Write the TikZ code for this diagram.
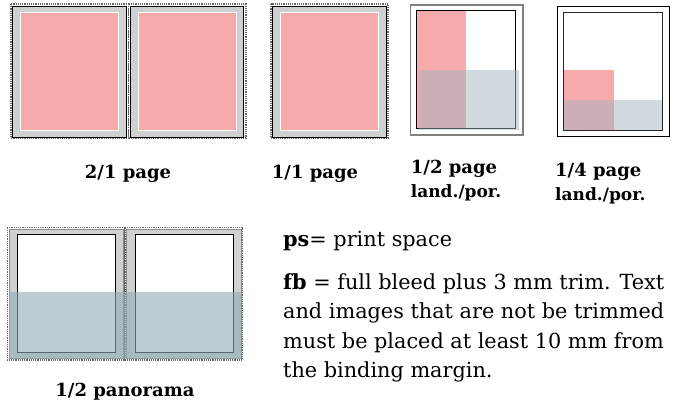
\documentclass[tikz,border=0pt]{standalone}
\usepackage{fontspec}
\setmainfont{DejaVu Serif}
\definecolor{pspink}{RGB}{247,170,172}
\definecolor{psgray}{RGB}{207,208,208}
\definecolor{psblue}{RGB}{165,181,193}
\definecolor{fbblue}{RGB}{145,172,183}
\tikzset{
  trimline/.style={draw=black!60,densely dotted,line width=1.2pt},
  pageframe/.style={fill=psgray,draw=black,line width=.9pt},
  pinkarea/.style={fill=pspink,draw=white,line width=.9pt},
  bluearea/.style={fill=psblue,fill opacity=.5},
  sizelabel/.style={inner sep=0pt,font=\bfseries\fontsize{18}{18}\selectfont},
  sublabel/.style={inner sep=0pt,font=\bfseries\fontsize{17}{17}\selectfont},
  notetext/.style={inner sep=0pt,anchor=base west,font=\fontsize{20.8}{20.8}\selectfont}
}
\begin{document}
\begin{tikzpicture}[x=1pt,y=-1pt]
\useasboundingbox (0,0) rectangle (673,405);

% 2/1 page
\foreach \px in {11,128.5}{
\begin{scope}[xshift=\px pt,yshift=-4pt]
\draw[trimline] (0,0) rectangle (117.5,134);
\draw[pageframe] (1.7,2) rectangle (115,133);
\draw[pinkarea] (9.7,8.3) rectangle (107.5,126);
\end{scope}
}
\node[sizelabel,anchor=base] (twoone) at (128,178.3) {2/1 page};

% 1/1 page
\begin{scope}[xshift=271pt,yshift=-4pt]
\draw[trimline] (0,0) rectangle (117,134);
\draw[pageframe] (1.7,2) rectangle (115,133);
\draw[pinkarea] (9.7,8.3) rectangle (107,126);
\end{scope}
\node[sizelabel,anchor=base west] (oneone) at (271.7,178.3) {1/1 page};

% 1/2 page
\draw[draw=black!50,line width=1.1pt] (410.7,5) rectangle (523,135);
\fill[pspink] (416.7,10.3) rectangle (466,128.7);
\draw[line width=.9pt] (416,10.3) rectangle (515,128.7);
\fill[bluearea] (418.7,70) rectangle (519,129.7);
\node[sizelabel,anchor=base west] (half) at (410.7,173.3) {1/2 page};
\node[sublabel,anchor=base west] (halfsub) at (410.7,197.7) {land./por.};

% 1/4 page
\draw[line width=1pt] (557,6) rectangle (669.3,136.3);
\fill[pspink] (564.3,70) rectangle (613.7,130);
\draw[draw=black!85,line width=.9pt] (563.7,12.3) rectangle (662.3,130.3);
\fill[bluearea] (563.7,100) rectangle (662,130);
\node[sizelabel,anchor=base west] (quarter) at (555,176.7) {1/4 page};
\node[sublabel,anchor=base west] (quartersub) at (555,200) {land./por.};

% 1/2 panorama
\foreach \px in {7.3,125}{
\begin{scope}[xshift=\px pt,yshift=-227.3pt]
\draw[trimline] (0,0) rectangle (117.5,132.7);
\draw[fill=psgray,draw=black!45,line width=.6pt] (1.6,1.6) rectangle (115.9,131.1);
\draw[fill=white,draw=black,line width=.9pt] (10,7) rectangle (108.4,125);
\end{scope}
}
\fill[fbblue,fill opacity=.6] (9.3,292) rectangle (240.7,359);
\node[sizelabel,anchor=base] (pano) at (125,396) {1/2 panorama};

% legend
\node[notetext] (ps) at (283,246) {\textbf{ps}= print space};
\node[notetext] (fb1) at (283,289) {\textbf{fb} = full bleed plus 3 mm trim. Text};
\node[notetext] (fb2) at (283,318.5) {and images that are not be trimmed};
\node[notetext] (fb3) at (283,348) {must be placed at least 10 mm from};
\node[notetext] (fb4) at (283,377.5) {the binding margin.};
\end{tikzpicture}
\end{document}
